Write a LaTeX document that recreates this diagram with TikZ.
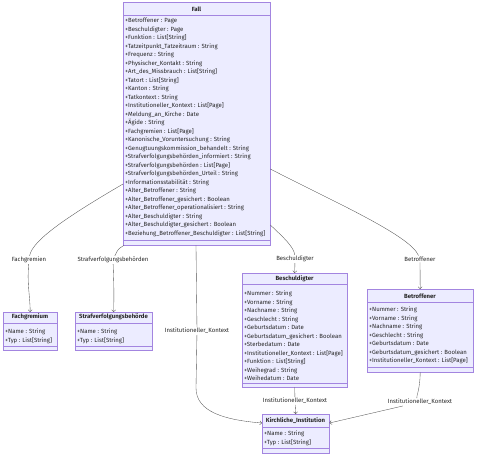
\documentclass[tikz,border=0pt]{standalone}
\usepackage{fontspec}
\setmainfont{Fira Sans}
\usepackage{tikz}
\usetikzlibrary{arrows.meta, positioning, calc}

\definecolor{umlfill}{HTML}{ECECFF}
\definecolor{umlline}{HTML}{9370DB}
\definecolor{edgeline}{HTML}{333333}

\tikzset{
  classbox/.style={draw=umlline!85, fill=umlfill, line width=0.4pt, inner sep=0, anchor=north west},
  sepline/.style={draw=umlline!85, line width=0.4pt},
  classname/.style={font=\fontsize{6}{7}\selectfont\bfseries, inner sep=0, text=black!85},
  members/.style={font=\fontsize{6}{8.5}\selectfont, align=left, anchor=north west, inner sep=0, text=black!85},
  elabel/.style={font=\fontsize{6}{7}\selectfont, fill=white, inner sep=1pt, text=black!85},
  assoc/.style={draw=edgeline!85, line width=0.35pt, -{Straight Barb[length=2pt, width=4pt]}}
}

\begin{document}
\begin{tikzpicture}[x=1pt, y=-1pt]
\useasboundingbox (0,0) rectangle (480,459);

% Fall
\node[classbox, minimum width=147pt, minimum height=243pt] (fall) at (123,2) {};
\draw[sepline] (fall.west |- 0,15) -- (fall.east |- 0,15);
\draw[sepline] (fall.west |- 0,240) -- (fall.east |- 0,240);
\node[classname] (falltitle) at (196.5,9) {Fall};
\node[members] (fallattr) at (125,18.2) {+Betroffener : Page\\
+Beschuldigter : Page\\
+Funktion : List[String]\\
+Tatzeitpunkt\_Tatzeitraum : String\\
+Frequenz : String\\
+Physischer\_Kontakt : String\\
+Art\_des\_Missbrauch : List[String]\\
+Tatort : List[String]\\
+Kanton : String\\
+Tatkontext : String\\
+Institutioneller\_Kontext : List[Page]\\
+Meldung\_an\_Kirche : Date\\
+Ägide : String\\
+Fachgremien : List[Page]\\
+Kanonische\_Voruntersuchung : String\\
+Genugtuungskommission\_behandelt : String\\
+Strafverfolgungsbehörden\_informiert : String\\
+Strafverfolgungsbehörden : List[Page]\\
+Strafverfolgungsbehörden\_Urteil : String\\
+Informationsstabilität : String\\
+Alter\_Betroffener : String\\
+Alter\_Betroffener\_gesichert : Boolean\\
+Alter\_Betroffener\_operationalisiert : String\\
+Alter\_Beschuldigter : String\\
+Alter\_Beschuldigter\_gesichert : Boolean\\
+Beziehung\_Betroffener\_Beschuldigter : List[String]};

% Fachgremium
\node[classbox, minimum width=54pt, minimum height=38pt] (fach) at (3,312) {};
\draw[sepline] (fach.west |- 0,323) -- (fach.east |- 0,323);
\draw[sepline] (fach.west |- 0,346) -- (fach.east |- 0,346);
\node[classname] (fachtitle) at (30,317) {Fachgremium};
\node[members] (fachattr) at (5,328.7) {+Name : String\\+Typ : List[String]};

% Strafverfolgungsbehoerde
\node[classbox, minimum width=77pt, minimum height=38pt] (straf) at (75,312) {};
\draw[sepline] (straf.west |- 0,323) -- (straf.east |- 0,323);
\draw[sepline] (straf.west |- 0,346) -- (straf.east |- 0,346);
\node[classname] (straftitle) at (113.5,317) {Strafverfolgungsbehörde};
\node[members] (strafattr) at (77,328.7) {+Name : String\\+Typ : List[String]};

% Beschuldigter
\node[classbox, minimum width=105pt, minimum height=114pt] (besch) at (242,273) {};
\draw[sepline] (besch.west |- 0,284) -- (besch.east |- 0,284);
\draw[sepline] (besch.west |- 0,383) -- (besch.east |- 0,383);
\node[classname] (beschtitle) at (294.5,279) {Beschuldigter};
\node[members] (beschattr) at (244,290.7) {+Nummer : String\\
+Vorname : String\\
+Nachname : String\\
+Geschlecht : String\\
+Geburtsdatum : Date\\
+Geburtsdatum\_gesichert : Boolean\\
+Sterbedatum : Date\\
+Institutioneller\_Kontext : List[Page]\\
+Funktion : List[String]\\
+Weihegrad : String\\
+Weihedatum : Date};

% Betroffener
\node[classbox, minimum width=106pt, minimum height=83pt] (betr) at (367,289) {};
\draw[sepline] (betr.west |- 0,302) -- (betr.east |- 0,302);
\draw[sepline] (betr.west |- 0,367) -- (betr.east |- 0,367);
\node[classname] (betrtitle) at (420,296) {Betroffener};
\node[members] (betrattr) at (369,306.7) {+Nummer : String\\
+Vorname : String\\
+Nachname : String\\
+Geschlecht : String\\
+Geburtsdatum : Date\\
+Geburtsdatum\_gesichert : Boolean\\
+Institutioneller\_Kontext : List[Page]};

% Kirchliche_Institution
\node[classbox, minimum width=67pt, minimum height=39pt] (kirch) at (262,414) {};
\draw[sepline] (kirch.west |- 0,427) -- (kirch.east |- 0,427);
\draw[sepline] (kirch.west |- 0,448) -- (kirch.east |- 0,448);
\node[classname] (kirchtitle) at (295.5,421) {Kirchliche\_Institution};
\node[members] (kirchattr) at (264,430.7) {+Name : String\\+Typ : List[String]};

% edge labels
\node[elabel] (lfach) at (29,260) {Fachgremien};
\node[elabel] (lstraf) at (113,260) {Strafverfolgungsbehörden};
\node[elabel] (linst) at (197,331) {Institutioneller\_Kontext};
\node[elabel] (lbesch) at (295,259) {Beschuldigter};
\node[elabel] (lbetr) at (420,259) {Betroffener};
\node[elabel] (lbk) at (295,401) {Institutioneller\_Kontext};
\node[elabel] (lbtk) at (420,402) {Institutioneller\_Kontext};

% associations
\draw[assoc] (fall.west |- 0,184) .. controls (70,215) and (32,240) .. (lfach) .. controls (27,285) and (30,295) .. (fach.north);
\draw[assoc] ([xshift=1pt]fall.south west) .. controls (118,249) .. (lstraf) .. controls (114,290) .. (straf.north);
\draw[assoc] (fall.south -| 196,0) -- (linst) -- (196,388) .. controls (196,412) and (225,420) .. (kirch.west |- 0,423);
\draw[assoc] (fall.east |- 0,225) .. controls (284,238) and (294,247) .. (lbesch) -- (besch.north);
\draw[assoc] (fall.east |- 0,169) .. controls (330,200) and (410,235) .. (lbetr) -- (betr.north);
\draw[assoc] (besch.south) -- (lbk) -- (kirch.north);
\draw[assoc] (betr.south) .. controls (420,390) and (416,397) .. (lbtk) -- (kirch.east |- 0,423);
\end{tikzpicture}
\end{document}
